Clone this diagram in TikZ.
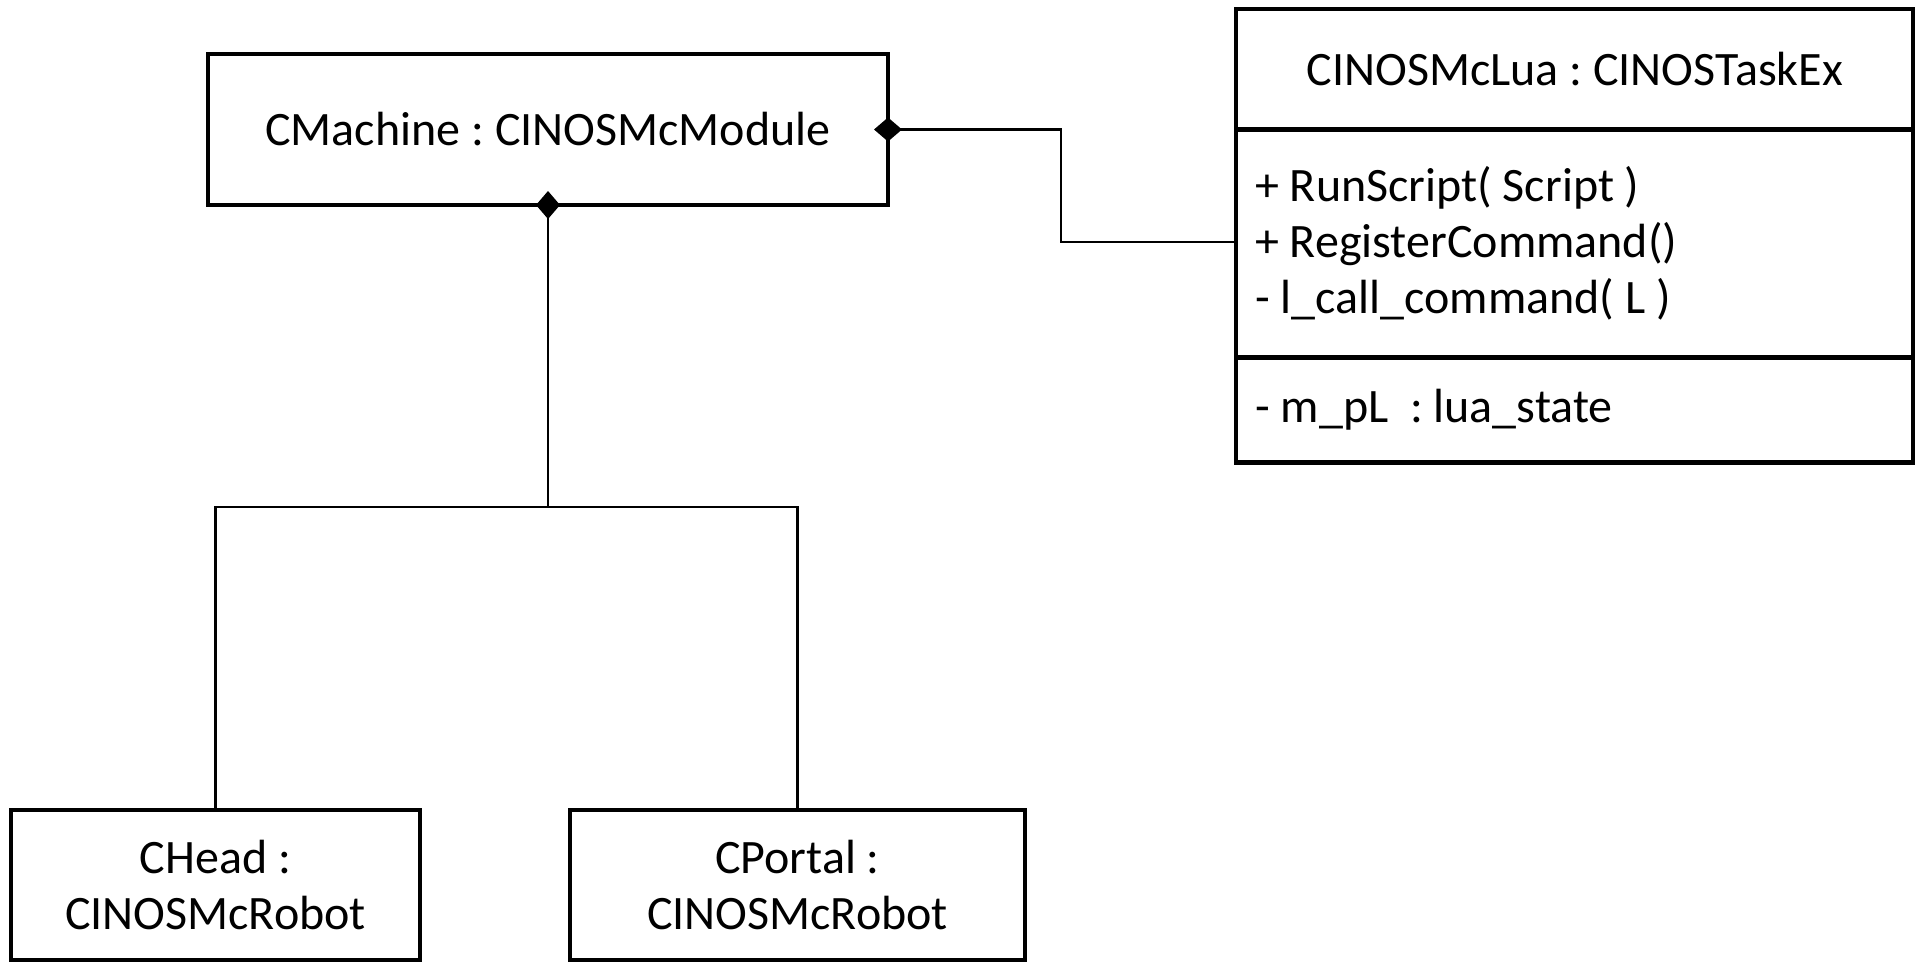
\documentclass[tikz,border=0pt]{standalone}
\usepackage{fontspec}
\setmainfont{Carlito}
\usetikzlibrary{arrows.meta}
\frenchspacing
\begin{document}
\begin{tikzpicture}[x=1pt,y=-1pt,
  every node/.style={font=\fontsize{48}{56}\selectfont},
  box/.style={draw,rectangle,line width=4.5pt,inner sep=0pt,outer sep=0pt},
  divider/.style={draw,line width=4.5pt},
  link/.style={draw,line width=2.2pt},
  comp/.style={{Diamond[length=28pt,width=24pt]}-,shorten <=-14pt}
]
\useasboundingbox (0,0) rectangle (1915,962);

% module object
\node[box,minimum width=680pt,minimum height=151pt] (mach) at (548,129.5)
  {CMachine : CINOSMcModule};

% Lua task class with its three compartments
\node[box,minimum width=677.5pt,minimum height=453.7pt] (lua) at (1574.75,235.85) {};
\coordinate (d1) at (0,129.3);
\coordinate (d2) at (0,357.3);
\draw[divider] (lua.west |- d1) -- (lua.east |- d1);
\draw[divider] (lua.west |- d2) -- (lua.east |- d2);
\node (luaname) at (1574.75,69) {CINOSMcLua : CINOSTaskEx};
\node[anchor=west,align=left,inner sep=0pt] (ops) at (1255,243.3)
  {+ RunScript( Script )\\+ RegisterCommand()\\- l\_call\_command( L )};
\node[anchor=west,inner sep=0pt] (attr) at (1255,410) {- m\_pL~ : lua\_state};

% robot objects
\node[box,align=center,minimum width=409pt,minimum height=150pt] (head) at (215.5,885)
  {CHead :\\CINOSMcRobot};
\node[box,align=center,minimum width=455pt,minimum height=150pt] (portal) at (797.5,885)
  {CPortal :\\CINOSMcRobot};

% compositions
\coordinate (bend) at (1061,242.3);
\coordinate (bus) at (548,507);
\draw[link,comp] (mach.east) -| (bend) -- (lua.west |- bend);
\draw[link,comp] (mach.south) -- (bus);
\draw[link] (head.north) |- (bus) -| (portal.north);
\end{tikzpicture}
\end{document}
